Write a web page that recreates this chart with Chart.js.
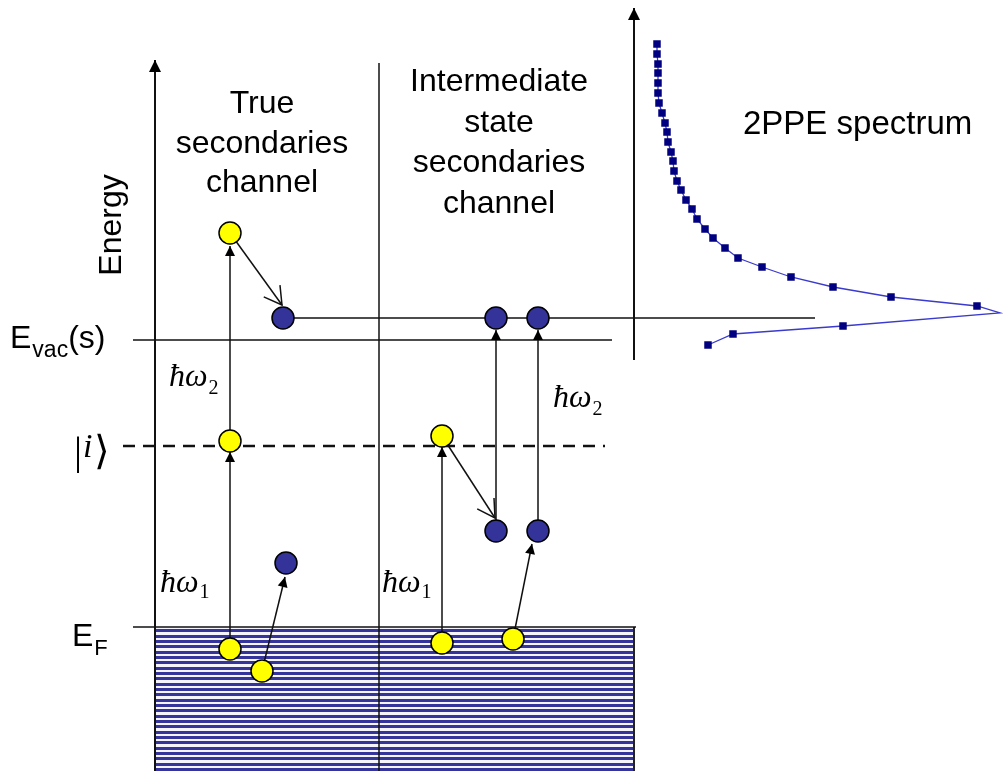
<!DOCTYPE html>
<html>
<head>
<meta charset="utf-8">
<script src="https://cdn.jsdelivr.net/npm/chart.js@4.4.0/dist/chart.umd.min.js"></script>
<style>
  html, body { margin: 0; padding: 0; background: #fff; }
</style>
</head>
<body>
<canvas id="diagram" width="1004" height="771"></canvas>
<script>
// Energy axis runs upward (0 = bottom of the picture), x is position across the picture

// Levels
const levelNames = ['E_F', 'i', 'E_vac(s)'];
const levelEnergy = [144, 325, 431];
const finalEnergy = 453;

// Column positions
const axisX = 155;
const dividerX = 379;
const spectrumAxisX = 634;

// Electrons (yellow = initial / intermediate, blue = secondaries)
const yellowX = [230, 230, 230, 262, 442, 442, 513];
const yellowE = [538, 330, 122, 100, 335, 128, 132];
const blueX = [283, 286, 496, 538, 496, 538];
const blueE = [453, 208, 453, 453, 240, 240];

// Transitions: from -> to, and the kind of arrow head
const arrowFromX = [230, 230, 262, 230, 442, 442, 496, 538, 513];
const arrowFromE = [122, 330, 100, 538, 128, 335, 240, 240, 132];
const arrowToX   = [230, 230, 285, 282, 442, 495, 496, 538, 532];
const arrowToE   = [319, 525, 194, 466, 324, 253, 441, 441, 227];
const arrowHead  = ['filled', 'filled', 'filled', 'open', 'filled', 'open', 'filled', 'filled', 'filled'];

// 2PPE spectrum (intensity drawn to the right, energy upward)
const spectrumIntensity = [657, 657, 658, 658, 658, 658, 659, 662, 665, 667, 668, 671, 673, 674, 677, 681,
  686, 692, 697, 705, 713, 725, 738, 762, 791, 833, 891, 977, 1000, 843, 733, 708];
const spectrumEnergy = [727, 717, 707, 698, 688, 678, 668, 658, 648, 639, 629, 619, 610, 600, 590, 581,
  571, 562, 552, 542, 533, 523, 513, 504, 494, 484, 474, 465, 458, 445, 437, 426];
const spectrumMarked = spectrumEnergy.map((e, i) => i !== 28);

// Texts
const leftTitle = ['True', 'secondaries', 'channel'];
const rightTitle = ['Intermediate', 'state', 'secondaries', 'channel'];
const spectrumTitle = '2PPE spectrum';
const axisTitle = 'Energy';

const SANS = "'Liberation Sans', Arial, sans-serif";
const SERIF = "'Liberation Serif', 'Times New Roman', serif";

// stripes for the filled band below E_F
function stripePattern() {
  const c = document.createElement('canvas');
  c.width = 4; c.height = 16;
  const g = c.getContext('2d');
  g.fillStyle = '#f4f4fa';
  g.fillRect(0, 0, 4, 16);
  g.fillStyle = '#34349a';
  [0, 5, 11].forEach(r => g.fillRect(0, r, 4, 3));
  return g.createPattern(c, 'repeat');
}

function segment(x0, e0, x1, e1, extra) {
  return Object.assign({
    data: [{ x: x0, y: e0 }, { x: x1, y: e1 }],
    showLine: true,
    pointRadius: 0,
    borderColor: '#111',
    borderWidth: 1.5,
    order: 2
  }, extra || {});
}

const datasets = [];

// electrons on top
datasets.push({
  data: yellowX.map((x, i) => ({ x, y: yellowE[i] })),
  pointRadius: 11,
  backgroundColor: '#ffff00',
  borderColor: '#000',
  borderWidth: 1.5,
  order: 0
});
datasets.push({
  data: blueX.map((x, i) => ({ x, y: blueE[i] })),
  pointRadius: 11,
  backgroundColor: '#333399',
  borderColor: '#000',
  borderWidth: 1.5,
  order: 0
});

// spectrum
datasets.push({
  data: spectrumIntensity.map((x, i) => ({ x, y: spectrumEnergy[i] })),
  showLine: true,
  borderColor: '#3a3acc',
  borderWidth: 1.3,
  pointStyle: 'rect',
  pointRadius: spectrumMarked.map(m => m ? 5.3 : 0),
  pointBackgroundColor: '#000080',
  pointBorderWidth: 0,
  order: 1
});

// axes
datasets.push(segment(axisX, 0, axisX, 711, { borderWidth: 2, head: 'filled', headLength: 12, headHalf: 6 }));
datasets.push(segment(spectrumAxisX, 411, spectrumAxisX, 763, { borderWidth: 2, head: 'filled', headLength: 12, headHalf: 6 }));
datasets.push(segment(dividerX, 0, dividerX, 708, { borderWidth: 1.5 }));

// levels
datasets.push(segment(133, levelEnergy[0], 636, levelEnergy[0]));
datasets.push(segment(123, levelEnergy[1], 605, levelEnergy[1], { borderWidth: 2.5, borderDash: [12, 8] }));
datasets.push(segment(133, levelEnergy[2], 612, levelEnergy[2]));
datasets.push(segment(blueX[0], finalEnergy, 815, finalEnergy, { borderWidth: 1.7 }));

// transitions
arrowFromX.forEach((x, i) => {
  datasets.push(segment(x, arrowFromE[i], arrowToX[i], arrowToE[i], { head: arrowHead[i] }));
});

// band below E_F
datasets.push({
  data: [{ x: axisX, y: levelEnergy[0] }, { x: spectrumAxisX, y: levelEnergy[0] }],
  showLine: true,
  pointRadius: 0,
  borderWidth: 0,
  fill: { value: 0 },
  backgroundColor: stripePattern(),
  order: 3
});
datasets.push(segment(spectrumAxisX, 0, spectrumAxisX, levelEnergy[0], { borderWidth: 2, borderColor: '#222', order: 2 }));

const arrowHeads = {
  id: 'arrowHeads',
  afterDatasetsDraw(chart) {
    const ctx = chart.ctx;
    chart.data.datasets.forEach((ds, i) => {
      if (!ds.head) return;
      const pts = chart.getDatasetMeta(i).data;
      const a = pts[pts.length - 2], b = pts[pts.length - 1];
      const ang = Math.atan2(b.y - a.y, b.x - a.x);
      ctx.save();
      ctx.translate(b.x, b.y);
      ctx.rotate(ang);
      ctx.beginPath();
      if (ds.head === 'filled') {
        const len = ds.headLength || 10, half = ds.headHalf || 5;
        ctx.moveTo(0, 0);
        ctx.lineTo(-len, -half);
        ctx.lineTo(-len, half);
        ctx.closePath();
        ctx.fillStyle = '#000';
        ctx.fill();
      } else {
        const len = 20, t = Math.PI / 6;
        ctx.moveTo(-len * Math.cos(t), -len * Math.sin(t));
        ctx.lineTo(0, 0);
        ctx.lineTo(-len * Math.cos(t), len * Math.sin(t));
        ctx.strokeStyle = '#111';
        ctx.lineWidth = 1.5;
        ctx.stroke();
      }
      ctx.restore();
    });
  }
};

function subText(ctx, x, y, main, sub, mainFont, subFont, dy, tail) {
  ctx.font = mainFont;
  ctx.fillText(main, x, y);
  let w = ctx.measureText(main).width;
  ctx.font = subFont;
  ctx.fillText(sub, x + w + 1, y + dy);
  w += 1 + ctx.measureText(sub).width;
  if (tail) {
    ctx.font = mainFont;
    ctx.fillText(tail, x + w, y);
  }
}

const labels = {
  id: 'labels',
  afterDraw(chart) {
    const ctx = chart.ctx;
    ctx.save();
    ctx.fillStyle = '#000';
    ctx.textBaseline = 'alphabetic';

    ctx.font = '32px ' + SANS;
    ctx.textAlign = 'center';
    leftTitle.forEach((t, i) => ctx.fillText(t, 262, 113 + i * 39.5));
    rightTitle.forEach((t, i) => ctx.fillText(t, 499, 91 + i * 40.7));
    ctx.textAlign = 'left';
    ctx.font = '33px ' + SANS;
    ctx.fillText(spectrumTitle, 743, 134);

    ctx.save();
    ctx.translate(121, 225);
    ctx.rotate(-Math.PI / 2);
    ctx.textAlign = 'center';
    ctx.font = '32px ' + SANS;
    ctx.fillText(axisTitle, 0, 0);
    ctx.restore();

    ctx.textAlign = 'left';
    subText(ctx, 10, 348, 'E', 'vac', '32px ' + SANS, '23px ' + SANS, 9, '(s)');
    subText(ctx, 72, 646, 'E', 'F', '32px ' + SANS, '22px ' + SANS, 9);

    // |i>
    ctx.font = '40px ' + SERIF;
    ctx.fillText('|', 74, 464);
    ctx.font = 'italic 34px ' + SERIF;
    ctx.fillText('i', 83, 457);
    ctx.font = '40px ' + SERIF;
    ctx.fillText('\u27E9', 94, 464);

    const hw = 'italic 32px ' + SERIF, sub = '20px ' + SERIF;
    subText(ctx, 169, 386, '\u0127\u03C9', '2', hw, sub, 8);
    subText(ctx, 553, 407, '\u0127\u03C9', '2', hw, sub, 8);
    subText(ctx, 160, 592, '\u0127\u03C9', '1', hw, sub, 6);
    subText(ctx, 382, 592, '\u0127\u03C9', '1', hw, sub, 6);
    ctx.restore();
  }
};

new Chart(document.getElementById('diagram'), {
  type: 'scatter',
  data: { datasets },
  options: {
    responsive: false,
    animation: false,
    layout: { padding: 0, autoPadding: false },
    plugins: { legend: { display: false }, tooltip: { enabled: false } },
    scales: {
      x: { type: 'linear', min: 0, max: 1004, display: false },
      y: { type: 'linear', min: 0, max: 771, display: false }
    }
  },
  plugins: [arrowHeads, labels]
});
</script>
</body>
</html>
